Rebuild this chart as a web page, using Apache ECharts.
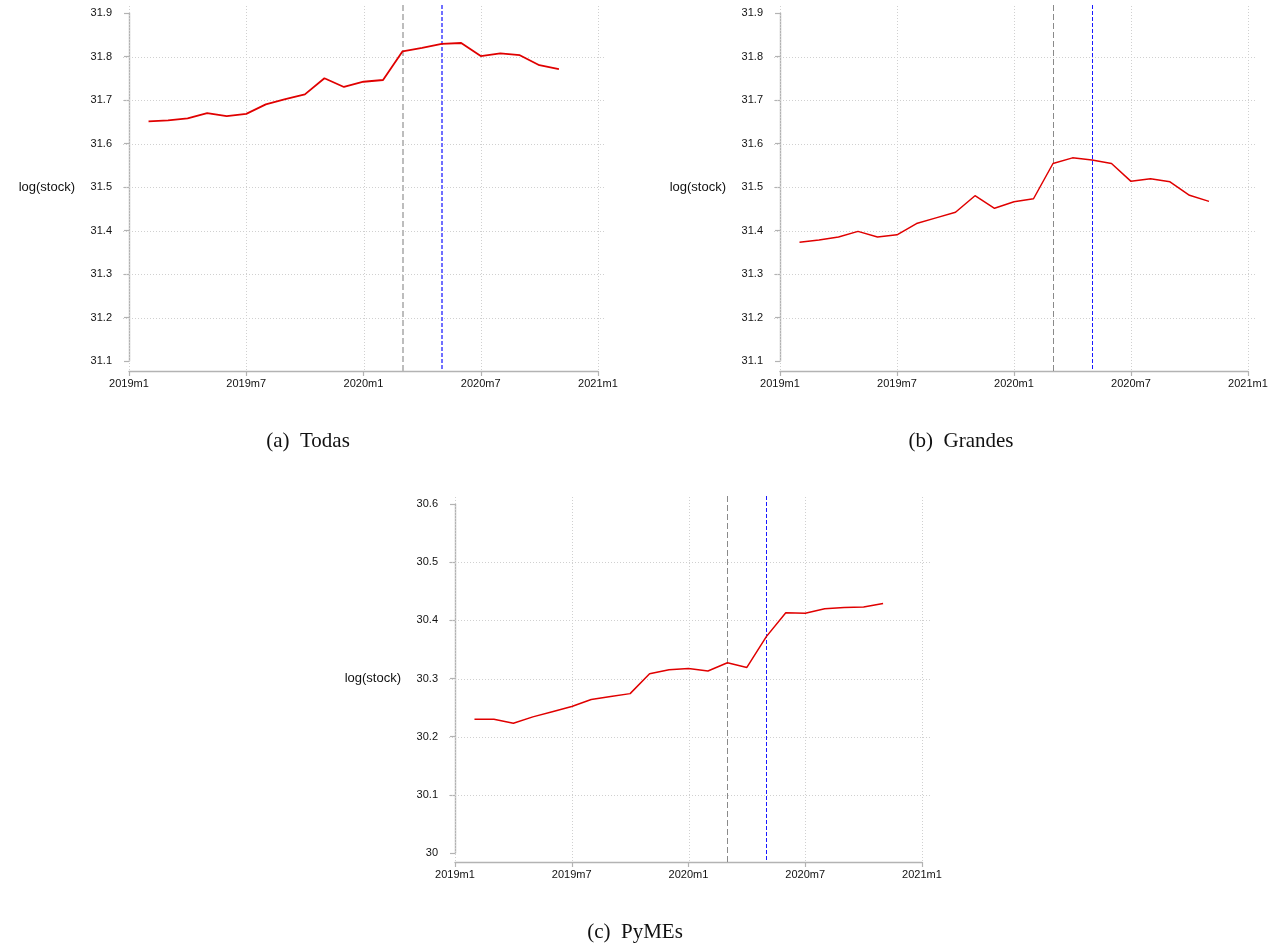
<!DOCTYPE html>
<html>
<head>
<meta charset="utf-8">
<script src="https://cdn.jsdelivr.net/npm/echarts@6/dist/echarts.min.js"></script>
<style>
  html, body { margin: 0; padding: 0; background: #ffffff; }
  #chart { width: 1279px; height: 947px; }
</style>
</head>
<body>
<div id="chart"></div>
<script>
// Monthly observations (Stata-style month labels)
const months = ['2019m2','2019m3','2019m4','2019m5','2019m6','2019m7','2019m8','2019m9','2019m10','2019m11','2019m12',
                '2020m1','2020m2','2020m3','2020m4','2020m5','2020m6','2020m7','2020m8','2020m9','2020m10','2020m11'];

// log(stock) by firm group
const todas   = [31.651,31.653,31.658,31.670,31.663,31.668,31.690,31.702,31.713,31.750,31.730,
                 31.742,31.746,31.812,31.820,31.829,31.831,31.801,31.807,31.803,31.780,31.771];
const grandes = [31.373,31.378,31.385,31.398,31.385,31.390,31.416,31.429,31.442,31.480,31.451,
                 31.466,31.473,31.554,31.567,31.562,31.554,31.513,31.519,31.512,31.481,31.467];
const pymes   = [30.230,30.230,30.223,30.234,30.243,30.252,30.264,30.269,30.274,30.308,30.315,
                 30.317,30.313,30.327,30.319,30.372,30.413,30.412,30.420,30.422,30.423,30.429];

// Axis ticks
const xTickLabels = ['2019m1','2019m7','2020m1','2020m7','2021m1'];
const yRangeTop = [31.1, 31.9];   // panels (a) and (b)
const yRangePymes = [30.0, 30.6]; // panel (c)

// Reference months marked with vertical dashed lines
const refGrey = '2020m3';
const refBlue = '2020m5';

const captions = ['(a)  Todas', '(b)  Grandes', '(c)  PyMEs'];

// ---------------------------------------------------------------
// Month label -> months since 2019m1
function monthIndex(label) {
  const [y, m] = label.split('m').map(Number);
  return (y - 2019) * 12 + (m - 1);
}
const xMax = monthIndex(xTickLabels[xTickLabels.length - 1]);
const xStep = monthIndex(xTickLabels[1]);

// Panel layout (pixels)
const panels = [
  { values: todas,   range: yRangeTop,   left: 129, right: 598,  top: 13,  bottom: 361, gapX: 10, gapY: 9,
    heavy: true,  cap: captions[0], capX: 308, capY: 441 },
  { values: grandes, range: yRangeTop,   left: 780, right: 1248, top: 13,  bottom: 361, gapX: 10, gapY: 9,
    heavy: false, cap: captions[1], capX: 961, capY: 441 },
  { values: pymes,   range: yRangePymes, left: 455, right: 922,  top: 504, bottom: 853, gapX: 9,  gapY: 9,
    heavy: false, cap: captions[2], capX: 635, capY: 932 }
];

const AXIS_GREY = '#b3b3b3';
const LABEL_FONT = 'Liberation Sans, Arial, sans-serif';

const grids = [], xAxes = [], yAxes = [], series = [], graphics = [];

panels.forEach((p, i) => {
  const [yMin, yMax] = p.range;
  grids.push({ left: p.left, top: p.top, width: p.right - p.left, height: p.bottom - p.top });

  xAxes.push({
    gridIndex: i, type: 'value', min: 0, max: xMax, interval: xStep, offset: p.gapX,
    axisLine: { show: true, lineStyle: { color: AXIS_GREY, width: 1.4 } },
    axisTick: { show: true, length: 5, lineStyle: { color: AXIS_GREY, width: 1.2 } },
    axisLabel: { margin: 7, color: '#111', fontFamily: LABEL_FONT, fontSize: 11,
                 formatter: v => xTickLabels[Math.round(v / xStep)] },
    splitLine: { show: false }
  });

  yAxes.push({
    gridIndex: i, type: 'value', min: yMin, max: yMax, interval: 0.1, offset: p.gapY,
    name: 'log(stock)', nameLocation: 'middle', nameRotate: 0, nameGap: 45,
    nameTextStyle: { color: '#111', fontFamily: LABEL_FONT, fontSize: 13 },
    axisLine: { show: true, lineStyle: { color: AXIS_GREY, width: 1.4 } },
    axisTick: { show: true, length: 5, lineStyle: { color: AXIS_GREY, width: 1.2 } },
    axisLabel: { margin: 8, color: '#111', fontFamily: LABEL_FONT, fontSize: 11,
                 formatter: v => String(Number(v.toFixed(1))) },
    splitLine: { show: false }
  });

  // Dotted grid: interior y ticks, all x ticks; slightly overhanging the plot box
  const yTicks = [];
  for (let k = 1; yMin + k * 0.1 < yMax - 1e-9; k++) yTicks.push(+(yMin + k * 0.1).toFixed(1));
  const xTicks = xTickLabels.map(monthIndex);
  series.push({
    type: 'custom', xAxisIndex: i, yAxisIndex: i, silent: true, z: 1,
    data: [[0, yMin]],
    renderItem: (params, api) => {
      const children = [];
      const gridStyle = { stroke: '#d0d0d0', lineWidth: 1, lineDash: [1, 2] };
      yTicks.forEach(t => {
        const a = api.coord([0, t]), b = api.coord([xMax, t]);
        const y = Math.round(a[1]) + 0.5;
        children.push({ type: 'line', shape: { x1: a[0] - 6, y1: y, x2: b[0] + 8, y2: y }, style: gridStyle });
      });
      xTicks.forEach(t => {
        const a = api.coord([t, yMax]), b = api.coord([t, yMin]);
        const x = Math.round(a[0]) + 0.5;
        children.push({ type: 'line', shape: { x1: x, y1: a[1] - 7, x2: x, y2: b[1] + p.gapX }, style: gridStyle });
      });
      return { type: 'group', children };
    }
  });

  // Vertical reference lines
  const refs = [
    { m: refGrey, color: p.heavy ? '#bdbdbd' : '#8a8a8a', width: p.heavy ? 2 : 1, dash: [6, 3] },
    { m: refBlue, color: p.heavy ? '#6f6fff' : '#1a1aff', width: p.heavy ? 2 : 1, dash: [4, 2] }
  ];
  series.push({
    type: 'custom', xAxisIndex: i, yAxisIndex: i, silent: true, z: 2,
    data: refs.map(r => [monthIndex(r.m), yMin]),
    renderItem: (params, api) => {
      const r = refs[params.dataIndex];
      const a = api.coord([api.value(0), yMax]), b = api.coord([api.value(0), yMin]);
      const x = r.width === 1 ? Math.round(a[0]) + 0.5 : Math.round(a[0]);
      return { type: 'line', shape: { x1: x, y1: a[1] - 8, x2: x, y2: b[1] + p.gapX },
               style: { stroke: r.color, lineWidth: r.width, lineDash: r.dash } };
    }
  });

  // Series line
  series.push({
    type: 'line', xAxisIndex: i, yAxisIndex: i, z: 5,
    data: months.map((m, k) => [monthIndex(m), p.values[k]]),
    showSymbol: false, symbol: 'none',
    lineStyle: { color: '#e00000', width: p.heavy ? 1.8 : 1.5 }
  });

  graphics.push({
    type: 'text', x: p.capX, y: p.capY, silent: true,
    style: { text: p.cap, fill: '#111', font: '21px "Liberation Serif", "DejaVu Serif", serif',
             align: 'center', verticalAlign: 'middle' }
  });
});

const chart = echarts.init(document.getElementById('chart'), null, { renderer: 'canvas' });
chart.setOption({
  animation: false,
  backgroundColor: '#ffffff',
  grid: grids,
  xAxis: xAxes,
  yAxis: yAxes,
  series: series,
  graphic: graphics
});
</script>
</body>
</html>
